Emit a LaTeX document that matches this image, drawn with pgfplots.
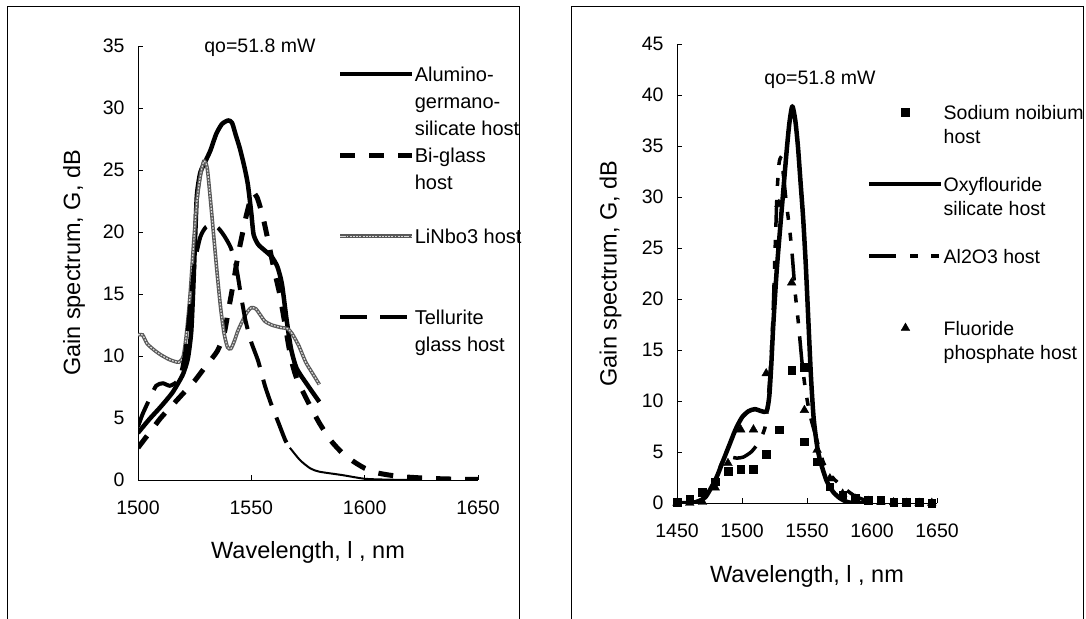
\documentclass[border=0pt]{standalone}
\usepackage{fontspec}
\setmainfont{Liberation Sans}
\usepackage{pgfplots}
\pgfplotsset{compat=1.18}

% extra legend rows: continuation lines and blank spacers
\newcommand{\txtrow}[1]{\addlegendimage{empty legend}\addlegendentry{#1}}
\newcommand{\blankrow}{\addlegendimage{empty legend}\addlegendentry{}}

\pgfplotsset{
  panel/.style={
    scale only axis,
    clip mode=individual,
    axis x line*=bottom,
    axis y line*=left,
    tick align=inside,
    major tick length=5pt,
    axis line style={line width=0.9pt, black},
    tick style={line width=0.9pt, black},
    tick label style={font=\fontsize{19.5}{22}\selectfont},
    /pgf/number format/assume math mode=true,
    /pgf/number format/1000 sep={},
    yticklabel style={xshift=-10pt},
    xticklabel style={yshift=-17pt},
    label style={font=\fontsize{23.5}{27}\selectfont},
    xlabel={Wavelength, l , nm},
    ylabel={Gain spectrum, G, dB},
    legend cell align=left,
    legend image code/.code={\draw[mark repeat=2,mark phase=2,#1] plot coordinates {(0pt,7.5pt) (36pt,7.5pt) (72pt,7.5pt)};},
    legend style={draw=none, fill=none, inner sep=0pt, row sep=0pt,
      cells={anchor=base west}},
  },
}

\begin{document}
\begin{tikzpicture}[x=1pt,y=1pt]
\useasboundingbox (0,0) rectangle (1086,618);
\draw[line width=1pt] (7,611) rectangle (519,-10);
\draw[line width=1pt] (571,611) rectangle (1083,-10);

% ---------------- left panel ----------------
\begin{axis}[panel,
  at={(138pt,138pt)}, anchor=south west,
  width=340pt, height=434pt,
  xmin=1500, xmax=1650, ymin=0, ymax=35,
  xtick={1500,1550,1600,1650}, ytick={0,5,...,35},
  xlabel style={at={(axis description cs:0.5,-0.166)}, anchor=center},
  ylabel style={at={(axis description cs:-0.188,0.5)}, anchor=center},
  legend style={at={(axis description cs:0.587,0.9528)}, anchor=north west, column sep=0pt,
    nodes={inner sep=0pt, text height=15pt, text depth=12pt, font=\fontsize{20}{24}\selectfont}},
]
\addplot[black, line width=4.5pt, line join=round, smooth, tension=0.4] coordinates {
 (1500,3.8) (1505,4.9) (1510,5.9) (1515,7.0) (1518,7.9) (1520,8.6) (1522,9.8)
 (1523.5,12) (1524.5,16) (1525.3,20) (1526,23) (1527.5,24.8) (1530,25.8)
 (1532,26.6) (1534.5,27.9) (1537,28.7) (1539.8,29.0) (1541.5,28.8) (1543,27.9)
 (1545,26.7) (1547,25.2) (1548.5,23.8) (1550,21.5) (1551,19.8) (1553,19.0)
 (1556,18.5) (1559,18.0) (1561.5,17.2) (1563.5,15.8) (1565.5,13.0) (1567.5,10.6)
 (1570,9.0) (1575,7.6) (1580,6.3)
};
\addlegendentry{Alumino-}
\txtrow{germano-}
\txtrow{silicate host}
\addplot[black, line width=5pt, dash pattern=on 15pt off 14pt, smooth, tension=0.4] coordinates {
 (1500,2.6) (1505,3.8) (1510,5.0) (1515,6.0) (1520,7.0) (1525,8.0) (1530,9.2)
 (1535,10.4) (1538,11.8) (1540,13.8) (1542,15.8) (1544,18.0) (1546,19.8)
 (1548,21.5) (1550.5,23.1) (1552.5,22.8) (1555,21.3) (1557.5,19.2) (1560,17.0)
 (1562.5,15.0) (1565,12.4) (1567.5,9.8) (1570,8.2) (1575,6.3) (1580,4.6)
 (1585,3.2) (1590,2.2) (1595,1.5) (1600,0.95) (1605,0.6) (1610,0.42) (1615,0.3)
 (1620,0.22) (1630,0.12) (1640,0.07) (1650,0.04)
};
\addlegendentry{Bi-glass}
\txtrow{host}
\blankrow
\addplot[black!65, line width=3.6pt, smooth, tension=0.4,
  postaction={draw=black!15, line width=1.2pt, dash pattern=on 1.8pt off 1.4pt}] coordinates {
 (1500,11.7) (1502,11.7) (1504,11.0) (1507,10.5) (1510,10.1) (1514,9.7) (1518,9.5)
 (1520,10.0) (1521.5,12) (1523,15) (1524.5,19) (1526,22.5) (1527.5,24.5)
 (1529,25.7) (1530.5,25.2) (1532,22.5) (1533.5,19.5) (1535,16.5) (1536.5,13.8)
 (1538,11.8) (1539.5,10.7) (1541,10.6) (1542.5,11.2) (1544,12.0) (1546,12.8)
 (1548,13.5) (1550,13.9) (1552,13.8) (1554,13.3) (1556,12.8) (1559,12.5)
 (1563,12.3) (1566,12.2) (1568,11.8) (1571,10.8) (1574,9.5) (1577,8.6) (1580,7.7)
};
\addlegendentry{LiNbo3 host}
\blankrow
\blankrow
\addplot[black, line width=4pt, dash pattern=on 27pt off 13pt, smooth, tension=0.4] coordinates {
 (1500,4.3) (1502,5.3) (1505,6.5) (1508,7.6) (1511,7.8) (1514,7.6) (1517,7.9)
 (1519,8.6) (1521,10.5) (1523,14) (1525,17.5) (1527.5,19.6) (1530,20.4)
 (1533,20.6) (1535.5,20.3) (1538,19.7) (1541,18.7) (1543.5,17.0) (1545.5,14.8)
 (1547.5,12.8) (1550,11.1) (1553,9.6) (1556,7.6) (1559,6.0) (1562,4.6)
 (1565,3.2) (1567,2.6)
};
\addlegendentry{Tellurite}
\txtrow{glass host}
\addplot[black, line width=2pt, smooth, tension=0.4, forget plot] coordinates {
 (1567,2.6) (1571.5,1.6) (1576,0.94) (1580,0.67) (1590,0.4) (1600,0.1)
 (1610,0.03) (1620,0)
};
\node[font=\fontsize{19.5}{22}\selectfont, anchor=base] at (axis cs:1553.8,34.5) {qo=51.8 mW};
\end{axis}

% ---------------- right panel ----------------
\begin{axis}[panel,
  at={(677pt,115pt)}, anchor=south west,
  width=260pt, height=459pt,
  xmin=1450, xmax=1650, ymin=0, ymax=45,
  xtick={1450,1500,1550,1600,1650}, ytick={0,5,...,45},
  xlabel style={at={(axis description cs:0.5,-0.159)}, anchor=center},
  ylabel style={at={(axis description cs:-0.256,0.5)}, anchor=center},
  legend style={at={(axis description cs:0.7308,0.8686)}, anchor=north west, column sep=0pt,
    nodes={inner sep=0pt, text height=15pt, text depth=9pt, font=\fontsize{19.5}{23}\selectfont}},
]
\addplot[black, only marks, mark=square*, mark size=3.8pt] coordinates {
 (1450,0.1) (1459.8,0.35) (1469.6,1.05) (1479.4,2.1) (1489.2,3.1) (1499,3.3)
 (1508.8,3.3) (1518.6,4.8) (1528.4,7.2) (1538.2,13.0) (1548,13.3) (1548,6.0)
 (1557.8,4.05) (1567.6,1.6) (1577.4,0.8) (1587.2,0.45) (1597,0.3) (1606.8,0.3)
 (1616.6,0.05) (1626.4,0.1) (1636.2,0.1) (1646,0.0)
};
\addlegendentry{Sodium noibium}
\txtrow{host}
\blankrow
\addplot[black, line width=4.5pt, line join=round, smooth, tension=0.4] coordinates {
 (1450,0) (1460,0) (1465,0.1) (1472,0.6) (1480,2.4) (1485,4.0) (1490,5.6)
 (1495,7.2) (1500,8.4) (1505,9.0) (1510,9.2) (1515,9.0) (1519,9.0) (1521,10.5)
 (1522.5,13.5) (1524,17.3) (1526.7,22.8) (1530.5,28.7) (1534.4,34.6)
 (1536.5,37.3) (1538.7,38.9) (1541,37.5) (1543,35) (1545,31.5) (1547,28)
 (1549,23.5) (1551,18) (1553,12.5) (1555,8.5) (1557.5,5.8) (1560,4.2)
 (1565,2.2) (1570,1.1) (1575,0.5) (1580,0.15) (1585,0) (1600,0)
};
\addlegendentry{Oxyflouride}
\txtrow{silicate host}
\blankrow
\addplot[black, line width=3.5pt,
  dash pattern=on 27pt off 14pt on 8pt off 13pt on 8pt off 13pt, smooth, tension=0.4] coordinates {
 (1450,0) (1460,0) (1470,0.4) (1478,1.8) (1484,3.8) (1488,4.6) (1492,4.5)
 (1496,4.4) (1501,4.5) (1507,5.0) (1512,5.8) (1517.5,7.3) (1520,10)
 (1522.5,14.5) (1524,19) (1525.5,25) (1527,30.5) (1528.5,33.3) (1530,33.8)
 (1532,32) (1534,29.5) (1536.5,27) (1538.5,24.5) (1541,20.5) (1543.5,17.5)
 (1546,14) (1548.5,11.4) (1552,8.8) (1557.5,6.2) (1562.5,4.0) (1569,2.6)
 (1578,1.5) (1588,0.6) (1600,0.1) (1610,0)
};
\addlegendentry{Al2O3 host}
\blankrow
\blankrow
\addplot[black, only marks, mark=triangle*, mark size=5pt] coordinates {
 (1450,0) (1459.8,0) (1469.6,0.1) (1479.4,1.5) (1489.2,3.9) (1499,7.2)
 (1508.8,7.2) (1518.6,12.7) (1528.4,29.3) (1538.2,21.6) (1548,9.1) (1557.8,5.2)
 (1567.6,2.4) (1577.4,0.9) (1587.2,0.4) (1597,0.2) (1606.8,0.1) (1616.6,0.05)
 (1626.4,0) (1636.2,0) (1646,0)
};
\addlegendentry{Fluoride}
\txtrow{phosphate host}
\node[font=\fontsize{19.5}{22}\selectfont, anchor=base] at (axis cs:1560,41) {qo=51.8 mW};
\end{axis}
\end{tikzpicture}
\end{document}
